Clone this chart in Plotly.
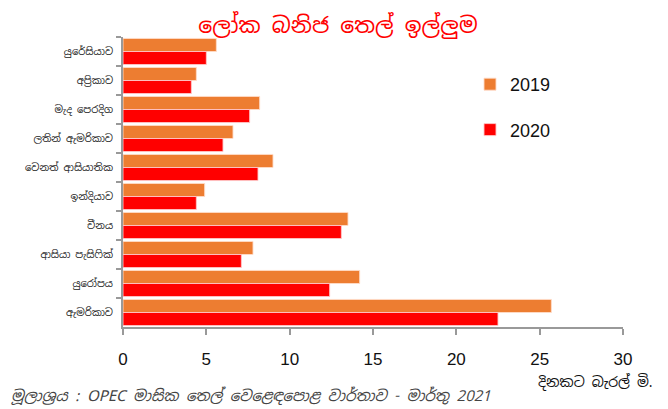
import plotly.graph_objects as go

# categories listed top to bottom
regions = ['යුරේසියාව', 'අප්‍රිකාව', 'මැද පෙරදිග', 'ලතින් ඇමරිකාව', 'වෙනත් ආසියාතික',
           'ඉන්දියාව', 'චීනය', 'ආසියා පැසිෆික්', 'යුරෝපය', 'ඇමරිකාව']
demand_2019 = [5.6, 4.4, 8.2, 6.6, 9.0, 4.9, 13.5, 7.8, 14.2, 25.7]
demand_2020 = [5.0, 4.1, 7.6, 6.0, 8.1, 4.4, 13.1, 7.1, 12.4, 22.5]
x_ticks = [0, 5, 10, 15, 20, 25, 30]

sinhala = 'Iskoola Pota, Noto Sans Sinhala, Noto Sans, sans-serif'
num_font = 'Liberation Sans Narrow, Liberation Sans, sans-serif'

fig = go.Figure()
fig.add_trace(go.Bar(y=regions, x=demand_2019, name='2019', orientation='h',
                     marker=dict(color='#ED7D31', line=dict(color='rgba(255,220,200,0.9)', width=1)),
                     legendgroup='a'))
fig.add_trace(go.Bar(y=regions, x=demand_2020, name='2020', orientation='h',
                     marker=dict(color='#FF0000', line=dict(color='rgba(255,200,200,0.9)', width=1)),
                     legendgroup='b'))

# page body has an 8px margin, so the figure is sized to fit the window
fig.update_layout(
    width=660, height=401,
    margin=dict(l=115, r=45, t=29, b=82, autoexpand=False),
    paper_bgcolor='white', plot_bgcolor='white',
    barmode='group', bargap=0.1, bargroupgap=0,
    title=dict(text='ලෝක බනිජ තෙල් ඉල්ලුම', x=0.5, xanchor='center', y=0.975, yanchor='top',
               font=dict(family=sinhala, size=22, color='#FF0000')),
    legend=dict(x=0.694, y=0.90, xanchor='left', yanchor='top', tracegroupgap=19,
                font=dict(family=num_font, size=18, color='#111111'), bgcolor='rgba(0,0,0,0)'),
    showlegend=True,
)
fig.update_xaxes(range=[0, 30], tickvals=x_ticks, showgrid=False, zeroline=False,
                 showline=True, linecolor='#999999', linewidth=2, automargin=False,
                 ticks='outside', ticklen=6, tickcolor='#999999', tickwidth=2,
                 ticklabelstandoff=10,
                 tickfont=dict(family=num_font, size=17, color='#111111'))
fig.update_yaxes(autorange='reversed', showgrid=False, showline=True, linecolor='#999999', linewidth=2,
                 ticks='outside', tickson='boundaries', ticklen=5, tickcolor='#999999', tickwidth=2,
                 ticklabelstandoff=6, automargin=False,
                 tickfont=dict(family=sinhala, size=10, color='#222222'))

fig.add_annotation(text='මූලාශ්‍රය : OPEC මාසික තෙල් වෙළෙඳපොළ වාර්තාව - මාර්තු 2021',
                   xref='paper', yref='paper', x=-0.228, y=-0.238, xanchor='left', yanchor='middle',
                   showarrow=False, font=dict(family=sinhala, size=15, color='#444444', style='italic'))
fig.add_annotation(text='දිනකට බැරල් මි.', xref='paper', yref='paper', x=1.064, y=-0.19,
                   xanchor='right', yanchor='middle', showarrow=False,
                   font=dict(family=sinhala, size=14, color='#111111'))

fig.write_html('out.html')
